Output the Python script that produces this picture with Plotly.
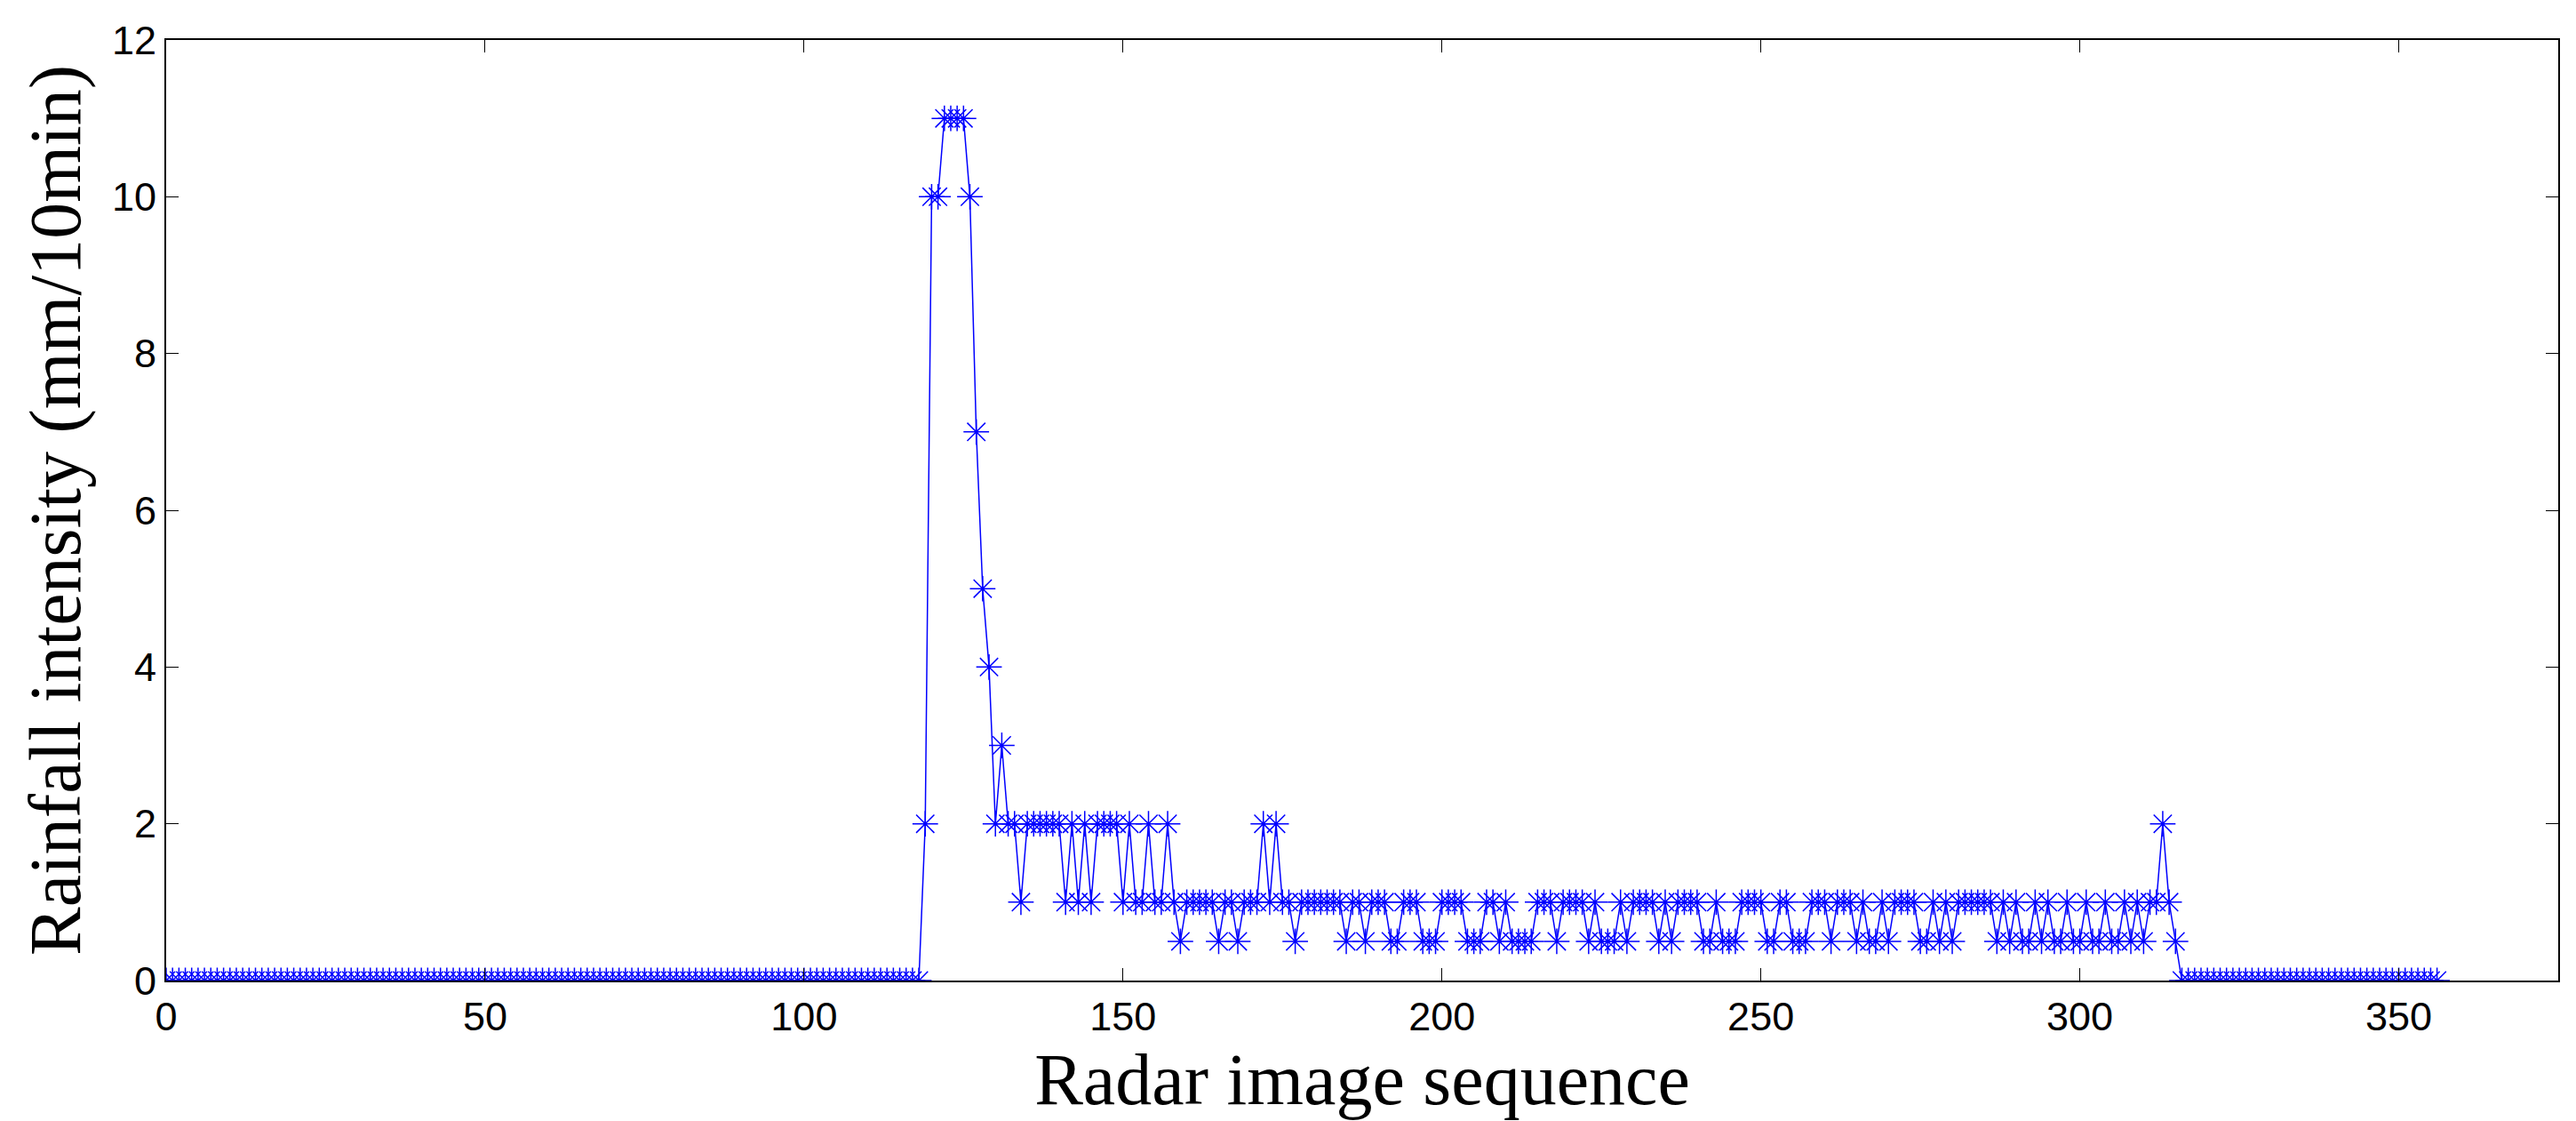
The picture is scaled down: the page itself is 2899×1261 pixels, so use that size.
import plotly.graph_objects as go

# radar image index and rainfall intensity (mm/10min)
seq = list(range(0, 357))

peak_values = {
    119: 2, 120: 10, 121: 10, 122: 11, 123: 11, 124: 11, 125: 11, 126: 10,
    127: 7, 128: 5, 129: 4, 130: 2, 131: 3, 132: 2, 133: 2, 134: 1,
    135: 2, 136: 2, 137: 2, 138: 2, 139: 2, 140: 2, 141: 1, 142: 2, 143: 1,
    144: 2, 145: 1, 146: 2, 147: 2, 148: 2, 149: 2, 150: 1, 151: 2, 152: 1,
    153: 1, 154: 2, 155: 1, 156: 1, 157: 2, 172: 2, 174: 2,
    312: 1, 313: 2, 314: 1,
}
half_mm = [159, 165, 168, 177, 185, 188, 192, 193, 197, 198, 199, 204, 205, 206,
           209, 211, 212, 213, 214, 218, 223, 225, 226, 227, 229, 234, 236, 241,
           242, 244, 245, 246, 251, 252, 255, 256, 257, 261, 265, 267, 268, 270,
           275, 276, 278, 280, 287, 289, 291, 292, 294, 296, 297, 299, 300, 302,
           303, 305, 306, 308, 310, 315]
wet_start, wet_end = 135, 315  # otherwise 1 mm/10min between these

rain = []
for t in seq:
    if t in peak_values:
        rain.append(peak_values[t])
    elif t in half_mm:
        rain.append(0.5)
    elif wet_start <= t <= wet_end:
        rain.append(1)
    else:
        rain.append(0)

fig = go.Figure()
fig.add_trace(go.Scatter(
    x=seq, y=rain, mode='lines+markers',
    line=dict(color='#0000FF', width=1.5),
    marker=dict(symbol='asterisk-open', size=24, color='#0000FF',
                line=dict(color='#0000FF', width=1.5)),
    showlegend=False,
))

axis_common = dict(
    showgrid=False, zeroline=False, showline=True, linecolor='black', linewidth=2,
    mirror='ticks', ticks='inside', ticklen=14, tickcolor='black',
    tickfont=dict(family='Liberation Sans, Arial', size=45, color='black'),
)
title_font = dict(family='Liberation Serif, Times New Roman', size=82, color='black')
fig.update_layout(
    width=2899, height=1261,
    margin=dict(l=179, r=28, t=37, b=166),
    plot_bgcolor='white', paper_bgcolor='white',
    xaxis=dict(range=[0, 375], tickvals=[0, 50, 100, 150, 200, 250, 300, 350],
               title=dict(text='Radar image sequence', standoff=2, font=title_font),
               **axis_common),
    yaxis=dict(range=[0, 12], tickvals=[0, 2, 4, 6, 8, 10, 12],
               title=dict(text='Rainfall intensity (mm/10min)', standoff=8, font=title_font),
               **axis_common),
)
fig.write_html("out.html")
